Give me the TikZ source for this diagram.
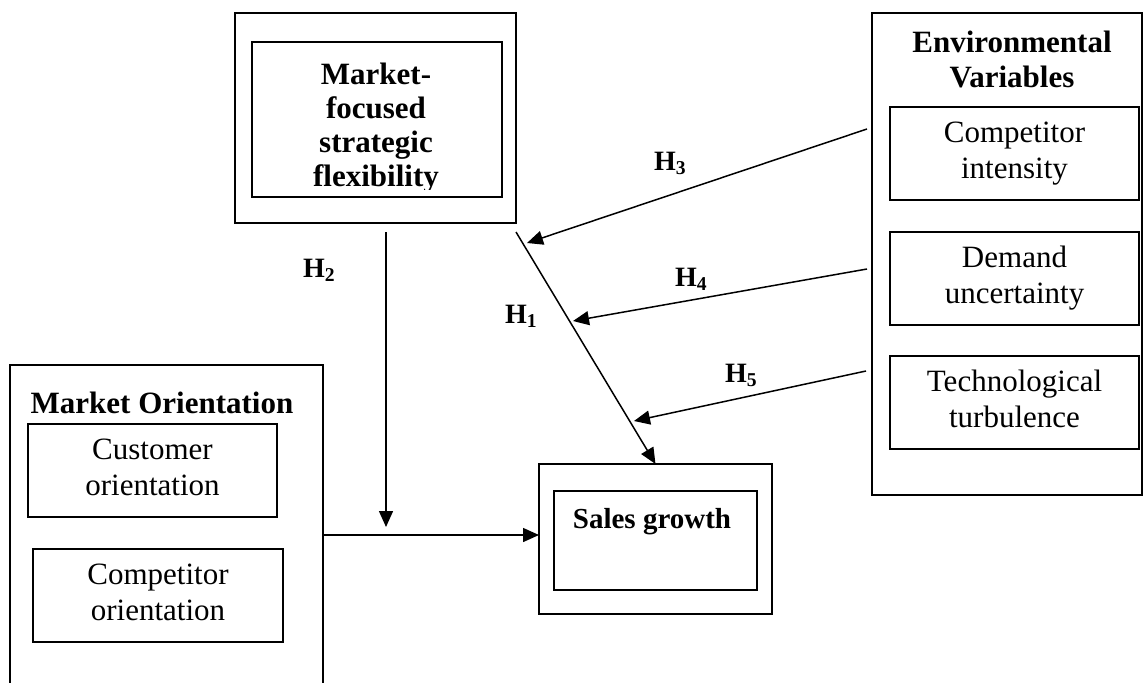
\documentclass[tikz,border=0pt]{standalone}
\usepackage{fontspec}
\setmainfont{Liberation Serif}
\usetikzlibrary{arrows.meta,calc}
\begin{document}
\begin{tikzpicture}[x=1pt,y=-1pt,
  box/.style={draw, line width=1.8pt, inner sep=0pt, outer sep=0pt, anchor=north west, align=center},
  txt/.style={font=\fontsize{31}{35.5}\selectfont, align=center},
  btxt/.style={font=\bfseries\fontsize{31}{35.5}\selectfont, align=center},
  hlab/.style={font=\bfseries\fontsize{28}{30}\selectfont, anchor=base west, inner sep=0pt},
  arr/.style={line width=1.5pt, -{Triangle[length=16pt,width=14pt]}}
]
\useasboundingbox (0,0) rectangle (1144,683);
\clip (0,0) rectangle (1144,683);

% Market-focused strategic flexibility
\node[box, minimum width=281pt, minimum height=210pt] (mfo) at (235,13) {};
\node[box, minimum width=250pt, minimum height=155pt] (mfi) at (252,42) {};
\begin{scope}
  \clip (mfi.north west) rectangle ([yshift=8pt]mfi.south east);
  \node[align=center, inner sep=0pt, font=\bfseries\fontsize{31}{34}\selectfont] (mft) at (376,129) {\strut Market-\\focused\\strategic\\flexibility\strut};
\end{scope}

% Environmental variables
\node[box, minimum width=270pt, minimum height=482pt] (env) at (872,13) {};
\node[btxt, inner sep=0pt] (envt) at (1012,63) {\strut Environmental\\Variables\strut};
\node[box, txt, minimum width=249pt, minimum height=93pt] (ci) at (890,107) {\strut Competitor\\intensity\strut};
\node[box, txt, minimum width=249pt, minimum height=93pt] (du) at (890,232) {\strut Demand\\uncertainty\strut};
\node[box, txt, minimum width=249pt, minimum height=93pt] (tt) at (890,356) {\strut Technological\\turbulence\strut};

% Market orientation
\node[box, minimum width=313pt, minimum height=340pt] (mo) at (10,365) {};
\node[btxt, anchor=base, inner sep=0pt] (mot) at (162,413) {Market Orientation};
\node[box, txt, minimum width=249pt, minimum height=93pt] (co) at (28,424) {\strut Customer\\orientation\strut};
\node[box, txt, minimum width=250pt, minimum height=93pt] (cpo) at (33,549) {\strut Competitor\\orientation\strut};

% Sales growth
\node[box, minimum width=233pt, minimum height=150pt] (so) at (539,464) {};
\node[box, minimum width=203pt, minimum height=99pt] (si) at (554,491) {};
\node[anchor=base, inner sep=0pt, font=\bfseries\fontsize{29}{32}\selectfont] (st) at (652,528) {Sales growth};

% connector end points
\coordinate (h1s) at (516,232);
\coordinate (h2s) at (386,232);
\coordinate (h2e) at (386,527);
\coordinate (hy) at (0,535);
\coordinate (h3s) at (867,129);
\coordinate (h3e) at (527,243);
\coordinate (h4s) at (867,269);
\coordinate (h4e) at (573,321);
\coordinate (h5s) at (866,371);
\coordinate (h5e) at (634,421);

\draw[arr] (h1s) -- (so.north);
\draw[arr] (h2s) -- (h2e);
\draw[arr] (mo.east |- hy) -- (so.west |- hy);
\draw[arr] (h3s) -- (h3e);
\draw[arr] (h4s) -- (h4e);
\draw[arr] (h5s) -- (h5e);

% labels
\node[hlab] (l1) at (505,323) {H\textsubscript{1}};
\node[hlab] (l2) at (303,277) {H\textsubscript{2}};
\node[hlab] (l3) at (654,170) {H\textsubscript{3}};
\node[hlab] (l4) at (675,286) {H\textsubscript{4}};
\node[hlab] (l5) at (725,382) {H\textsubscript{5}};
\end{tikzpicture}
\end{document}
